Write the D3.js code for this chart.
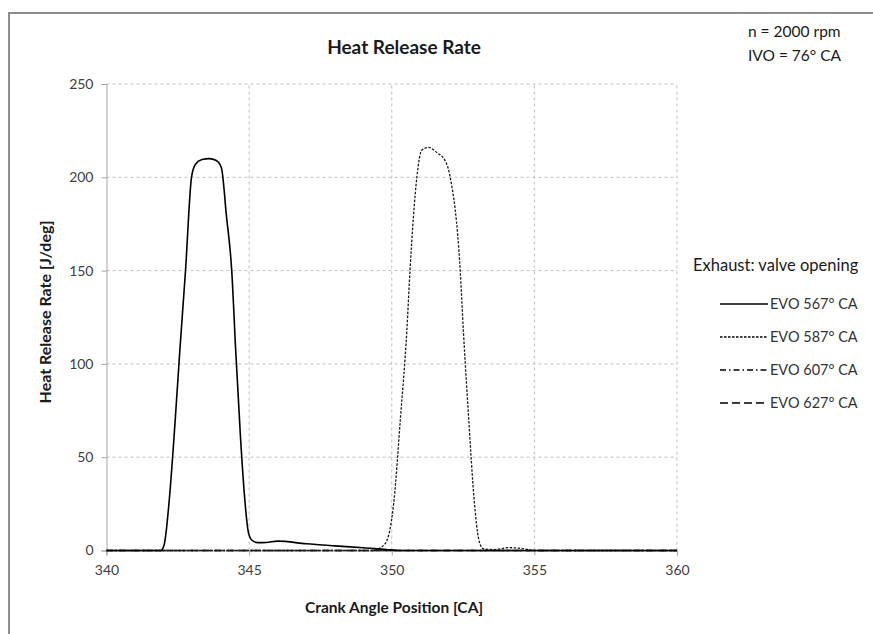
<!DOCTYPE html>
<html><head><meta charset="utf-8">
<script src="https://cdn.jsdelivr.net/npm/d3@7"></script>
<style>body{margin:0;background:#fff}svg{display:block}text{font-family:Lato,"Open Sans",sans-serif}</style>
</head><body><svg id="c" width="873" height="634"></svg>
<script>
const xTicks = [340,345,350,355,360];
const yTicks = [0,50,100,150,200,250];
const seriesNames = ["EVO 567° CA","EVO 587° CA","EVO 607° CA","EVO 627° CA"];
const evo567 = [[340,0],[341,0],[341.9,0],[342.02,3],[342.2,27],[342.4,68],[342.57,107],[342.77,150],[342.98,200],[343.12,207],[343.35,209.5],[343.6,210],[343.85,209],[344.03,205],[344.2,180],[344.39,150],[344.53,107],[344.7,60],[344.85,27],[344.97,10],[345.1,5.5],[345.3,4.2],[345.6,4.3],[346,5],[347,3.6],[348,2.5],[349,1.5],[349.8,0.5],[350.3,0],[360,0]];
const evo587 = [[340,0],[349.3,0],[349.6,1.5],[349.82,5],[350.08,27],[350.3,70],[350.53,118],[350.64,150],[350.88,200],[351.05,214.5],[351.29,216],[351.6,213],[351.85,209.5],[352.05,200],[352.4,150],[352.51,118],[352.7,70],[352.89,27],[353.05,6],[353.2,1],[353.6,0.5],[354.1,1.5],[354.6,1],[355,0],[360,0]];
const evo607 = [[340,0],[345,0],[350,0],[355,0],[360,0]];
const evo627 = [[340,0],[345,0],[350,0],[355,0],[360,0]];
const allSeries = [evo567, evo587, evo607, evo627];
const dashes = [null, "2.5,1.5", "6,3,1.5,3", "8,4"];

const svg = d3.select("#c");
const x = d3.scaleLinear().domain([340,360]).range([106.5,677]);
const y = d3.scaleLinear().domain([0,250]).range([550.5,84]);

svg.append("rect").attr("x",9).attr("y",13).attr("width",900).attr("height",700)
  .attr("fill","none").attr("stroke","#8c8c8c").attr("stroke-width",2);

// grid
svg.append("g").selectAll("line").data(yTicks.filter(d=>d>0)).join("line")
  .attr("x1",x(340)).attr("x2",x(360)).attr("y1",d=>y(d)).attr("y2",d=>y(d))
  .attr("stroke","#bfbfbf").attr("stroke-dasharray","3,3");
svg.append("g").selectAll("line").data(xTicks.filter(d=>d>340)).join("line")
  .attr("x1",d=>x(d)).attr("x2",d=>x(d)).attr("y1",y(0)).attr("y2",y(250))
  .attr("stroke","#bfbfbf").attr("stroke-dasharray","3,3");

// axes
const yAxis = svg.append("g").attr("transform",`translate(${x(340)},0)`)
  .call(d3.axisLeft(y).tickValues(yTicks).tickSize(5).tickPadding(8));
const xAxis = svg.append("g").attr("transform",`translate(0,${y(0)})`)
  .call(d3.axisBottom(x).tickValues(xTicks).tickSize(5).tickPadding(10));
[yAxis,xAxis].forEach(a=>{
  a.select(".domain").attr("stroke","#a6a6a6");
  a.selectAll(".tick line").attr("stroke","#a6a6a6");
  a.selectAll(".tick text").attr("fill","#404040").style("font-size","14px").style("font-family","Lato,sans-serif");
});

// lines
const line = d3.line().x(d=>x(d[0])).y(d=>y(d[1])).curve(d3.curveMonotoneX);
allSeries.slice().reverse().forEach((s,ri)=>{
  const i = allSeries.length-1-ri;
  svg.append("path").datum(s).attr("d",line).attr("fill","none")
    .attr("stroke", i===0?"#000":"#1a1a1a").attr("stroke-width", i===0?1.6:1.3)
    .attr("stroke-dasharray",dashes[i]);
});

// title
svg.append("text").attr("x",404).attr("y",54).attr("text-anchor","middle")
  .style("font-size","19px").style("font-weight","bold").attr("fill","#1a1a1a").text("Heat Release Rate");
svg.append("text").attr("x",394).attr("y",613).attr("text-anchor","middle")
  .style("font-size","15.5px").style("font-weight","bold").attr("fill","#1a1a1a").text("Crank Angle Position [CA]");
svg.append("text").attr("transform",`translate(51,312) rotate(-90)`).attr("text-anchor","middle")
  .style("font-size","16px").style("font-weight","bold").attr("fill","#1a1a1a").text("Heat Release Rate [J/deg]");

svg.append("text").attr("x",748).attr("y",37).style("font-size","15.5px").attr("fill","#1a1a1a").text("n = 2000 rpm");
svg.append("text").attr("x",748).attr("y",61).style("font-size","15.5px").attr("fill","#1a1a1a").text("IVO = 76° CA");

// legend
svg.append("text").attr("x",693).attr("y",271).style("font-size","16.5px").attr("fill","#1a1a1a").text("Exhaust: valve opening");
const lg = svg.append("g").selectAll("g").data(seriesNames).join("g")
  .attr("transform",(d,i)=>`translate(0,${304+i*33})`);
lg.append("line").attr("x1",720).attr("x2",768).attr("y1",0).attr("y2",0)
  .attr("stroke","#000").attr("stroke-width",(d,i)=>i===0?1.6:1.3).attr("stroke-dasharray",(d,i)=>dashes[i]);
lg.append("text").attr("x",770).attr("y",5).style("font-size","14.5px").attr("fill","#333").text(d=>d);
</script></body></html>
